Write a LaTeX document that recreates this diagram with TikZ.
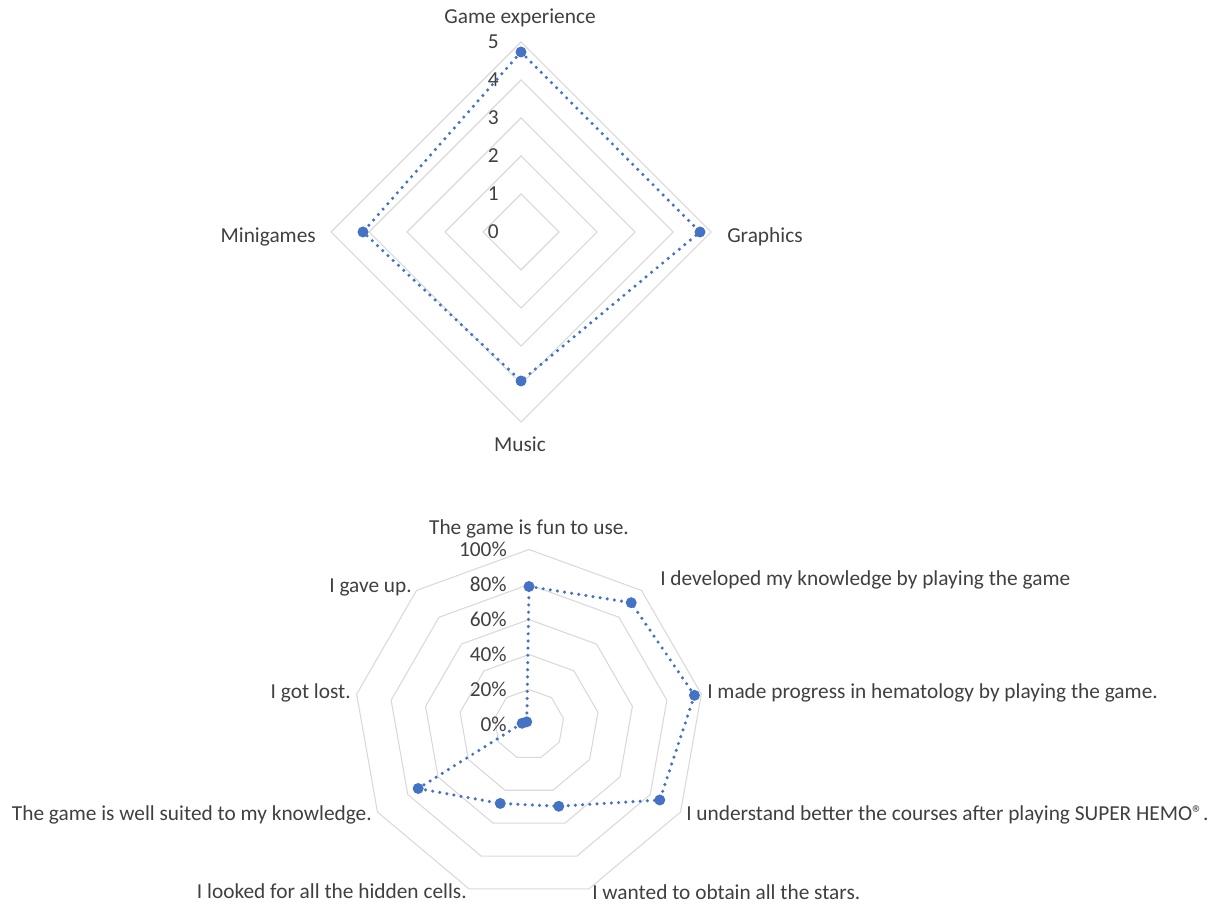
\documentclass[tikz,border=0pt]{standalone}
\usepackage{fontspec}
\setmainfont{Carlito}
\definecolor{seriesblue}{HTML}{4472C4}
\definecolor{gridgray}{HTML}{D9D9D9}
\definecolor{labelgray}{HTML}{404040}
\tikzset{
  gridline/.style={draw=gridgray, line width=0.8pt},
  series/.style={seriesblue, line width=2.6pt, line cap=round, dash pattern=on 0pt off 5.4pt},
  marker/.style={fill=seriesblue},
  axislabel/.style={text=labelgray, font=\fontsize{16}{19}\selectfont, inner sep=0pt},
  ticklabel/.style={axislabel, anchor=east}
}
\begin{document}
\begin{tikzpicture}[x=0.75pt,y=0.75pt]
\useasboundingbox (0,0) rectangle (1220,904);
\begin{scope}[shift={(521,672)}]
\foreach \r in {1,...,5}
  \draw[gridline] (90:38*\r) -- (0:38*\r) -- (-90:38*\r) -- (180:38*\r) -- cycle;
\foreach \r in {0,...,5}
  \node[ticklabel] (tick\r) at (-22,38*\r) {\r};
\coordinate (ge) at (90:180);
\coordinate (gr) at (0:179);
\coordinate (mu) at (-90:149);
\coordinate (mi) at (180:158);
\draw[series] (ge) -- (gr) -- (mu) -- (mi) -- cycle;
\foreach \p in {ge,gr,mu,mi}
  \fill[marker] (\p) circle[radius=5.5];
\node[axislabel] (gelabel) at (-1,214) {Game experience};
\node[axislabel, anchor=west] (grlabel) at (206,-5) {Graphics};
\node[axislabel] (mulabel) at (-1,-212) {Music};
\node[axislabel, anchor=east] (milabel) at (-205,-5) {Minigames};
\end{scope}
\begin{scope}[shift={(529,179.5)}]
\foreach \i in {1,...,5}
  \draw[gridline] (90:35*\i) \foreach \k in {1,...,8} {-- (90-40*\k:35*\i)} -- cycle;
\foreach \i in {0,...,5}
  \node[ticklabel] (pct\i) at (-22,35*\i) {\the\numexpr20*\i\relax\%};
\coordinate (fun) at (90:138);
\coordinate (dev) at (50:159);
\coordinate (prog) at (10:168);
\coordinate (und) at (-30:151);
\coordinate (star) at (-70:87);
\coordinate (hid) at (-110:84);
\coordinate (suit) at (-150:128);
\coordinate (lost) at (170:7);
\coordinate (gave) at (130:3.5);
\draw[series] (fun) -- (dev) -- (prog) -- (und) -- (star) -- (hid) -- (suit) -- (lost) -- (gave) -- cycle;
\foreach \p in {fun,dev,prog,und,star,hid,suit,lost,gave}
  \fill[marker] (\p) circle[radius=5.5];
\node[axislabel] (funlabel) at (0,195.5) {The game is fun to use.};
\node[axislabel, anchor=west] (devlabel) at (131,144.5) {I developed my knowledge by playing the game};
\node[axislabel, anchor=west] (proglabel) at (178,31.5) {I made progress in hematology by playing the game.};
\node[axislabel, anchor=west] (undlabel) at (157,-90.5) {I understand better the courses after playing SUPER HEMO®.};
\node[axislabel, anchor=west] (starlabel) at (63,-167.5) {I wanted to obtain all the stars.};
\node[axislabel, anchor=east] (hidlabel) at (-62,-166.5) {I looked for all the hidden cells.};
\node[axislabel, anchor=east] (suitlabel) at (-157,-90.5) {The game is well suited to my knowledge.};
\node[axislabel, anchor=east] (lostlabel) at (-178,31.5) {I got lost.};
\node[axislabel, anchor=east] (gavelabel) at (-117,137.5) {I gave up.};
\end{scope}
\end{tikzpicture}
\end{document}
